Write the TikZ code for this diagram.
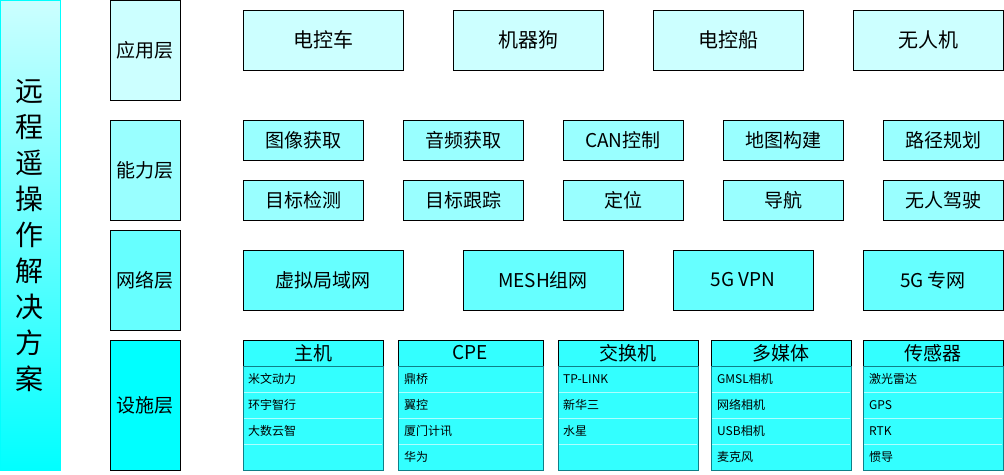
\documentclass[tikz,border=0pt]{standalone}
\usepackage{fontspec}
\setmainfont{Noto Sans CJK SC}
\usetikzlibrary{positioning}

\definecolor{appfill}{HTML}{CCFFFF}
\definecolor{capfill}{HTML}{99FFFF}
\definecolor{netfill}{HTML}{66FFFF}
\definecolor{basefill}{HTML}{00FFFF}
\definecolor{listfill}{HTML}{33FFFF}
\definecolor{listline}{HTML}{0E8088}

\begin{document}
\begin{tikzpicture}[x = 1pt, y = -1pt,
    titlebar/.style = {draw = basefill, line width = 1pt, top color = appfill, bottom color = basefill, minimum width = 60pt, minimum height = 470pt, inner sep = 0pt},
    layerbox/.style = {draw = black, line width = 1pt, minimum width = 70pt, inner sep = 0pt, font = \fontsize{19}{22}\selectfont},
    appbox/.style = {draw = black, line width = 1pt, fill = appfill, minimum height = 60pt, inner sep = 0pt, font = \fontsize{20}{24}\selectfont},
    skillbox/.style = {draw = black, line width = 1pt, fill = capfill, minimum width = 120pt, minimum height = 40pt, inner sep = 0pt, font = \fontsize{19}{22}\selectfont},
    netbox/.style = {draw = black, line width = 1pt, fill = netfill, minimum height = 60pt, inner sep = 0pt, font = \fontsize{19}{22}\selectfont},
    listhead/.style = {draw = black, line width = 1pt, fill = listfill, minimum height = 26pt, inner sep = 0pt, outer sep = 0pt, font = \fontsize{19}{22}\selectfont},
    listbody/.style = {draw = listline, line width = 1pt, fill = listfill, minimum height = 104pt, inner sep = 0pt, outer sep = 0pt},
    listitem/.style = {anchor = west, inner sep = 0pt, font = \fontsize{12}{14}\selectfont},
    rowline/.style = {draw = white, opacity = 0.6, line width = 0.8pt},
    ]
    \useasboundingbox (0, 0) rectangle (1004, 474);

    \node[titlebar] (T) at (30.5, 235.5) {};
    \node[align = center, font = \fontsize{28}{36}\selectfont] (Ttext) at (30, 236) {远\\程\\遥\\操\\作\\解\\决\\方\\案};

    \node[layerbox, fill = appfill, minimum height = 100pt] (L1) at (145, 50.5) {应用层};
    \node[layerbox, fill = capfill, minimum height = 100pt] (L2) at (145, 170) {能力层};
    \node[layerbox, fill = netfill, minimum height = 100pt] (L3) at (145, 280) {网络层};
    \node[layerbox, fill = basefill, minimum height = 130pt] (L4) at (145, 405) {设施层};

    \node[appbox, minimum width = 160pt] (A1) at (323, 40) {电控车};
    \node[appbox, minimum width = 150pt] (A2) at (528, 40) {机器狗};
    \node[appbox, minimum width = 150pt] (A3) at (728, 40) {电控船};
    \node[appbox, minimum width = 150pt] (A4) at (928, 40) {无人机};

    \node[skillbox] (C1) at (303, 140) {图像获取};
    \node[skillbox] (C2) at (463, 140) {音频获取};
    \node[skillbox] (C3) at (623, 140) {CAN控制};
    \node[skillbox] (C4) at (783.5, 140) {地图构建};
    \node[skillbox] (C5) at (943, 140) {路径规划};
    \node[skillbox] (D1) at (303, 200) {目标检测};
    \node[skillbox] (D2) at (463, 200) {目标跟踪};
    \node[skillbox] (D3) at (623, 200) {定位};
    \node[skillbox] (D4) at (783.5, 200) {导航};
    \node[skillbox] (D5) at (943, 200) {无人驾驶};

    \node[netbox, minimum width = 160pt] (N1) at (323, 280) {虚拟局域网};
    \node[netbox, minimum width = 160pt] (N2) at (543, 280) {MESH组网};
    \node[netbox, minimum width = 140pt] (N3) at (743, 280) {5G VPN};
    \node[netbox, minimum width = 140pt] (N4) at (933, 280) {5G 专网};

    \node[listhead, minimum width = 140pt] (host) at (313, 353) {主机};
    \node[listbody, minimum width = 140pt, below = 0pt of host] (hostB) {};
    \node[listhead, minimum width = 145pt] (cpe) at (470.5, 353) {CPE};
    \node[listbody, minimum width = 145pt, below = 0pt of cpe] (cpeB) {};
    \node[listhead, minimum width = 140pt] (switch) at (628, 353) {交换机};
    \node[listbody, minimum width = 140pt, below = 0pt of switch] (switchB) {};
    \node[listhead, minimum width = 140pt] (media) at (781, 353) {多媒体};
    \node[listbody, minimum width = 140pt, below = 0pt of media] (mediaB) {};
    \node[listhead, minimum width = 140pt] (sensor) at (933, 353) {传感器};
    \node[listbody, minimum width = 140pt, below = 0pt of sensor] (sensorB) {};

    \foreach \r in {392, 418, 444} {
        \draw[rowline] (244, \r) -- (382, \r);
        \draw[rowline] (399, \r) -- (542, \r);
        \draw[rowline] (559, \r) -- (697, \r);
        \draw[rowline] (712, \r) -- (850, \r);
        \draw[rowline] (864, \r) -- (1002, \r);
    }

    \node[listitem] (host1) at (248, 379) {米文动力};
    \node[listitem] (host2) at (248, 405) {环宇智行};
    \node[listitem] (host3) at (248, 431) {大数云智};

    \node[listitem] (cpe1) at (404, 379) {鼎桥};
    \node[listitem] (cpe2) at (404, 405) {翼控};
    \node[listitem] (cpe3) at (404, 431) {厦门计讯};
    \node[listitem] (cpe4) at (404, 457) {华为};

    \node[listitem] (switch1) at (563, 379) {TP-LINK};
    \node[listitem] (switch2) at (563, 405) {新华三};
    \node[listitem] (switch3) at (563, 431) {水星};

    \node[listitem] (media1) at (717, 379) {GMSL相机};
    \node[listitem] (media2) at (717, 405) {网络相机};
    \node[listitem] (media3) at (717, 431) {USB相机};
    \node[listitem] (media4) at (717, 457) {麦克风};

    \node[listitem] (sensor1) at (869, 379) {激光雷达};
    \node[listitem] (sensor2) at (869, 405) {GPS};
    \node[listitem] (sensor3) at (869, 431) {RTK};
    \node[listitem] (sensor4) at (869, 457) {惯导};
\end{tikzpicture}
\end{document}
